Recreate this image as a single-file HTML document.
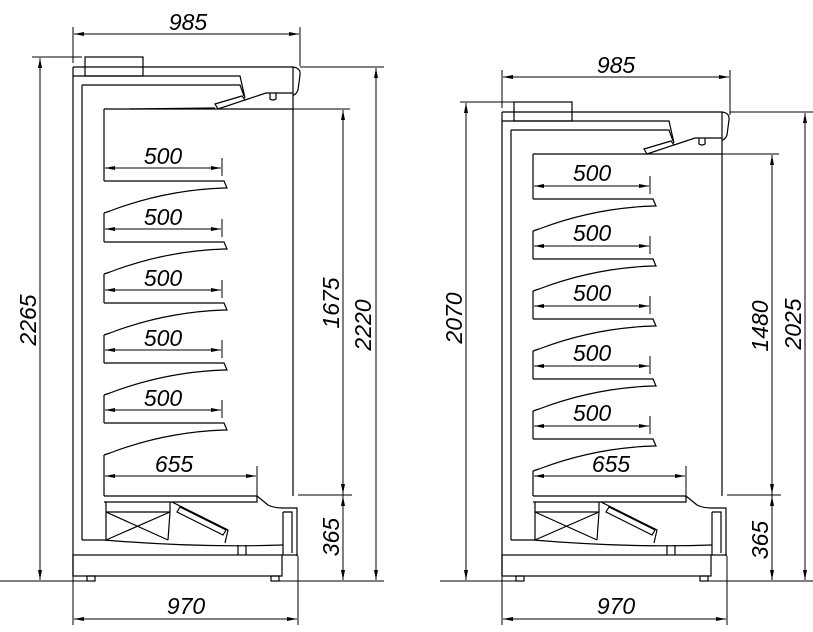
<!DOCTYPE html>
<html><head><meta charset="utf-8"><style>
html,body{margin:0;padding:0;background:#fff;}
svg{display:block;}
text{font-family:"Liberation Sans",sans-serif;font-style:italic;font-size:23px;fill:#000;}
</style></head><body>
<svg width="813" height="632" viewBox="0 0 813 632" xmlns="http://www.w3.org/2000/svg">
<g fill="none" stroke="#000" stroke-width="1.2">

<g>
<rect x="85" y="57" width="58" height="19"/>
<path d="M73,67 L293,67"/>
<path d="M73,76 L240,76 L245,98"/>
<path d="M82,85 L240,85 L244,96"/>
<path d="M215,104 L242,96 L245,100 L218,109z"/>
<path d="M245,100 L266,93 L293,93"/>
<path d="M270,93 L270,99 Q273,101 276,99 L276,93"/>
<path d="M293,67 Q301,68 300,75 L298,90 Q296,95 293,95"/>
<path d="M104,109 L293,109"/>
<path d="M130,109 L215,108"/>
</g>
<path d="M73,67 L73,576"/>
<path d="M82,85 L82,540"/>
<path d="M293,67 L293,496"/>

<path d="M104,109 L104,181 M104,213 L104,242 M104,274 L104,303 M104,335 L104,363 M104,395 L104,423 M104,455 L104,496"/>
<path d="M104,181 L224,181 L227,188 L224,188 Q165,190 110,211 L104,213"/>
<path d="M104,242 L224,242 L227,249 L224,249 Q165,251 110,272 L104,274"/>
<path d="M104,303 L224,303 L227,310 L224,310 Q165,312 110,333 L104,335"/>
<path d="M104,363 L224,363 L227,370 L224,370 Q165,372 110,393 L104,395"/>
<path d="M104,423 L224,423 L227,430 L224,430 Q165,432 110,453 L104,455"/>

<path d="M533,154 L533,199 M533,231 L533,259 M533,291 L533,319 M533,351 L533,379 M533,411 L533,439 M533,471 L533,496"/>
<path d="M533,199 L653,199 L656,206 L653,206 Q594,208 539,229 L533,231"/>
<path d="M533,259 L653,259 L656,266 L653,266 Q594,268 539,289 L533,291"/>
<path d="M533,319 L653,319 L656,326 L653,326 Q594,328 539,349 L533,351"/>
<path d="M533,379 L653,379 L656,386 L653,386 Q594,388 539,409 L533,411"/>
<path d="M533,439 L653,439 L656,446 L653,446 Q594,448 539,469 L533,471"/>

<g transform="translate(429,45)">
<rect x="85" y="57" width="58" height="19"/>
<path d="M73,67 L293,67"/>
<path d="M73,76 L240,76 L245,98"/>
<path d="M82,85 L240,85 L244,96"/>
<path d="M215,104 L242,96 L245,100 L218,109z"/>
<path d="M245,100 L266,93 L293,93"/>
<path d="M270,93 L270,99 Q273,101 276,99 L276,93"/>
<path d="M293,67 Q301,68 300,75 L298,90 Q296,95 293,95"/>
<path d="M104,109 L293,109"/>
</g>
<path d="M502,112 L502,576"/>
<path d="M511,130 L511,540"/>
<path d="M722,112 L722,496"/>

<g>
<path d="M104,496 L257,496 L257,502 L104,502"/>
<path d="M257,496 Q262,500 268,505 Q274,508 283,508 L297,508 L297,556"/>
<path d="M283,512 L283,555"/>
<path d="M283,512 L292,512 L292,553"/>
<path d="M82,540 L104,540"/>
<path d="M106,502 L106,540 M170,502 L170,512 M106,512 L170,512 L168,540"/>
<path d="M106,512 L168,540 M170,512 L106,540"/>
<path d="M172,502 L228,530 L225,543"/>
<path d="M180,507 L226,530 L223,535 L177,512z"/>
<path d="M104,540 Q200,548 283,545"/>
<path d="M238,545 L238,555 M246,545 L246,555"/>
<rect x="73" y="555" width="209" height="21"/>
<path d="M282,555 L298,555"/>
<rect x="87" y="576" width="8" height="5"/>
<rect x="271" y="576" width="8" height="5"/>
</g>
<g transform="translate(429,0)">
<path d="M104,496 L257,496 L257,502 L104,502"/>
<path d="M257,496 Q262,500 268,505 Q274,508 283,508 L297,508 L297,556"/>
<path d="M283,512 L283,555"/>
<path d="M283,512 L292,512 L292,553"/>
<path d="M82,540 L104,540"/>
<path d="M106,502 L106,540 M170,502 L170,512 M106,512 L170,512 L168,540"/>
<path d="M106,512 L168,540 M170,512 L106,540"/>
<path d="M172,502 L228,530 L225,543"/>
<path d="M180,507 L226,530 L223,535 L177,512z"/>
<path d="M104,540 Q200,548 283,545"/>
<path d="M238,545 L238,555 M246,545 L246,555"/>
<rect x="73" y="555" width="209" height="21"/>
<path d="M282,555 L298,555"/>
<rect x="87" y="576" width="8" height="5"/>
<rect x="271" y="576" width="8" height="5"/>
</g>
</g>

<g fill="none" stroke="#000" stroke-width="1">
<path d="M73,27 L73,63 M300,27 L300,66"/>
<path d="M74,34 L299,34"/>
<path d="M73,576 L73,625 M298,556 L298,625"/>
<path d="M74,619 L297,619"/>
<path d="M32,57 L82,57 M0,581 L87,581"/>
<path d="M40,58 L40,580"/>
<path d="M293,109 L350,109 M298,495 L352,495 M300,67 L384,67 M279,581 L384,581"/>
<path d="M343,110 L343,580"/>
<path d="M376,68 L376,580"/>
<path d="M222,158 L222,176 M222,219 L222,237 M222,280 L222,298 M222,340 L222,358 M222,400 L222,418 M257,466 L257,496"/>
<path d="M105,168 L221,168 M105,229 L221,229 M105,290 L221,290 M105,350 L221,350 M105,410 L221,410 M105,476 L256,476"/>

<path d="M502,70 L502,108 M730,70 L730,115"/>
<path d="M503,77 L729,77"/>
<path d="M502,576 L502,625 M727,556 L727,625"/>
<path d="M503,619 L726,619"/>
<path d="M460,102 L514,102 M440,581 L516,581"/>
<path d="M466,103 L466,580"/>
<path d="M722,154 L779,154 M727,495 L781,495 M730,112 L813,112 M708,581 L813,581"/>
<path d="M772,155 L772,580"/>
<path d="M805,113 L805,580"/>
<path d="M650,176 L650,194 M650,236 L650,254 M650,296 L650,314 M650,356 L650,374 M650,416 L650,434 M686,466 L686,496"/>
<path d="M534,186 L649,186 M534,246 L649,246 M534,306 L649,306 M534,366 L649,366 M534,426 L649,426 M534,476 L685,476"/>
</g>

<!-- arrowheads -->
<path fill="#000" stroke="none" d="
M74,34 l10,-2 v4z M299,34 l-10,-2 v4z
M74,619 l10,-2 v4z M297,619 l-10,-2 v4z
M105,168 l10,-2 v4z M221,168 l-10,-2 v4z
M105,229 l10,-2 v4z M221,229 l-10,-2 v4z
M105,290 l10,-2 v4z M221,290 l-10,-2 v4z
M105,350 l10,-2 v4z M221,350 l-10,-2 v4z
M105,410 l10,-2 v4z M221,410 l-10,-2 v4z
M105,476 l10,-2 v4z M256,476 l-10,-2 v4z
M503,77 l10,-2 v4z M729,77 l-10,-2 v4z
M503,619 l10,-2 v4z M726,619 l-10,-2 v4z
M534,186 l10,-2 v4z M649,186 l-10,-2 v4z
M534,246 l10,-2 v4z M649,246 l-10,-2 v4z
M534,306 l10,-2 v4z M649,306 l-10,-2 v4z
M534,366 l10,-2 v4z M649,366 l-10,-2 v4z
M534,426 l10,-2 v4z M649,426 l-10,-2 v4z
M534,476 l10,-2 v4z M685,476 l-10,-2 v4z
M40,58 l-2,10 h4z M40,580 l-2,-10 h4z
M343,110 l-2,10 h4z M343,494 l-2,-10 h4z
M343,496 l-2,10 h4z M343,580 l-2,-10 h4z
M376,68 l-2,10 h4z M376,580 l-2,-10 h4z
M466,103 l-2,10 h4z M466,580 l-2,-10 h4z
M772,155 l-2,10 h4z M772,494 l-2,-10 h4z
M772,496 l-2,10 h4z M772,580 l-2,-10 h4z
M805,113 l-2,10 h4z M805,580 l-2,-10 h4z"/>

<g text-anchor="middle">
<text x="188" y="30">985</text>
<text x="186" y="614">970</text>
<text x="163" y="164">500</text>
<text x="163" y="225">500</text>
<text x="163" y="286">500</text>
<text x="163" y="346">500</text>
<text x="163" y="406">500</text>
<text x="174" y="472">655</text>
<text transform="translate(36,320) rotate(-90)">2265</text>
<text transform="translate(339,303) rotate(-90)">1675</text>
<text transform="translate(371,325) rotate(-90)">2220</text>
<text transform="translate(339,537) rotate(-90)">365</text>

<text x="616" y="73">985</text>
<text x="616" y="614">970</text>
<text x="592" y="181">500</text>
<text x="592" y="241">500</text>
<text x="592" y="301">500</text>
<text x="592" y="361">500</text>
<text x="592" y="421">500</text>
<text x="611" y="472">655</text>
<text transform="translate(462,318) rotate(-90)">2070</text>
<text transform="translate(768,326) rotate(-90)">1480</text>
<text transform="translate(801,324) rotate(-90)">2025</text>
<text transform="translate(768,540) rotate(-90)">365</text>
</g>
</svg>
</body></html>
